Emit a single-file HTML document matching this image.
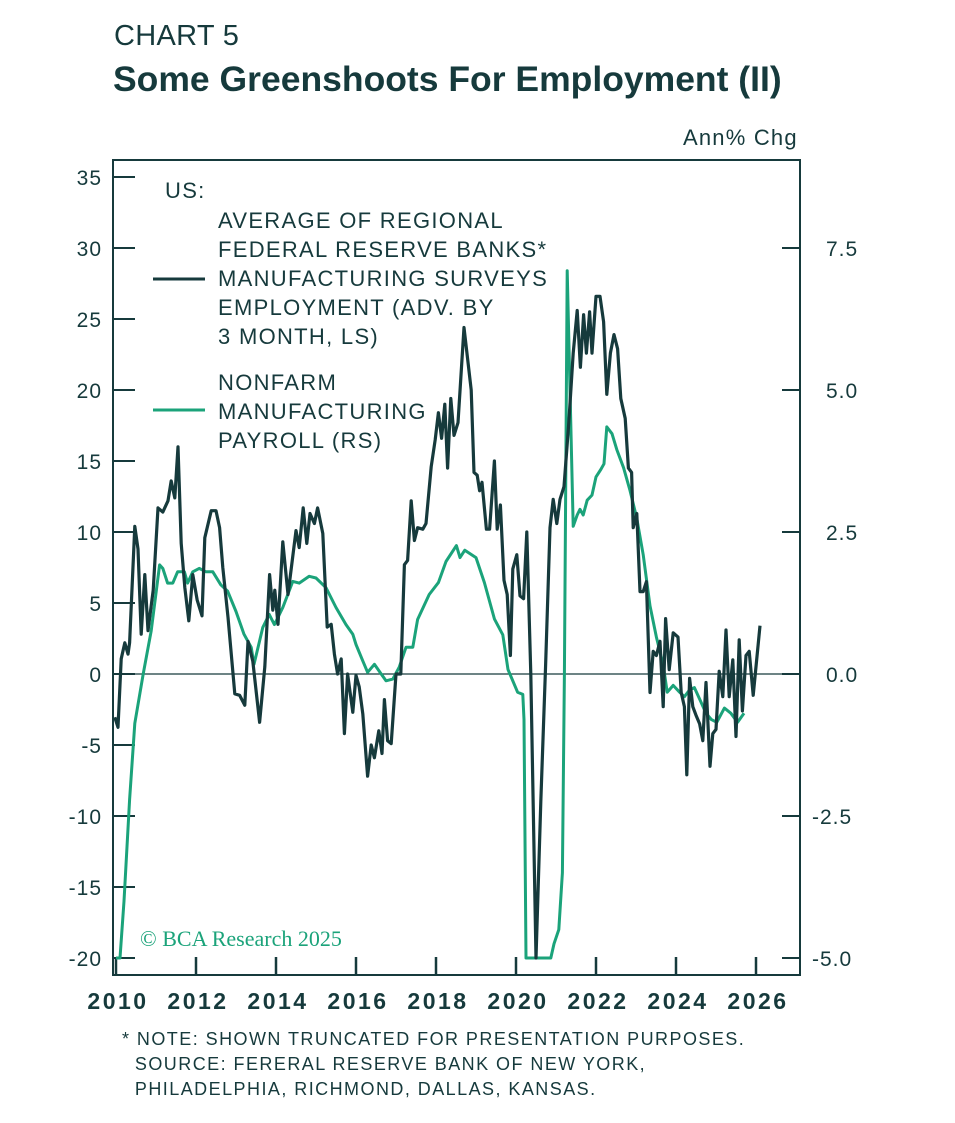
<!DOCTYPE html>
<html><head><meta charset="utf-8"><style>
body{margin:0;background:#fff;width:955px;height:1123px;overflow:hidden;font-family:"Liberation Sans",sans-serif;color:#163a3c}
.t{position:absolute;white-space:nowrap}
</style></head><body>
<div class="t" style="left:114px;top:20px;font-size:29px;letter-spacing:0.3px">CHART 5</div>
<div class="t" style="left:113px;top:59px;font-size:35.5px;font-weight:bold;letter-spacing:0px">Some Greenshoots For Employment (II)</div>
<div class="t" style="left:683px;top:125px;font-size:22px;letter-spacing:1.2px">Ann% Chg</div>
<svg id="chart" width="955" height="1123" style="position:absolute;left:0;top:0"></svg>
<div class="t" style="left:122px;top:1027px;font-size:18px;line-height:25px;letter-spacing:1.45px">* NOTE: SHOWN TRUNCATED FOR PRESENTATION PURPOSES.<br>&nbsp;&nbsp;SOURCE: FERERAL RESERVE BANK OF NEW YORK,<br>&nbsp;&nbsp;PHILADELPHIA, RICHMOND, DALLAS, KANSAS.</div>
<script>
const leftTicks=[35,30,25,20,15,10,5,0,-5,-10,-15,-20];
const rightTicks=[7.5,5.0,2.5,0.0,-2.5,-5.0];
const yearTicks=[2010,2012,2014,2016,2018,2020,2022,2024,2026];
const surveyDates=[2009.97,2010.05,2010.13,2010.22,2010.3,2010.34,2010.47,2010.55,2010.63,2010.72,2010.8,2010.93,2011.05,2011.17,2011.3,2011.38,2011.47,2011.55,2011.63,2011.72,2011.82,2011.92,2012.03,2012.15,2012.22,2012.38,2012.5,2012.59,2012.67,2012.8,2012.97,2013.09,2013.22,2013.3,2013.42,2013.59,2013.72,2013.84,2013.92,2013.97,2014.05,2014.17,2014.3,2014.5,2014.58,2014.68,2014.77,2014.85,2014.96,2015.04,2015.17,2015.28,2015.38,2015.46,2015.54,2015.63,2015.71,2015.79,2015.92,2016.0,2016.08,2016.17,2016.29,2016.38,2016.46,2016.57,2016.65,2016.71,2016.79,2016.88,2017.0,2017.12,2017.21,2017.29,2017.38,2017.46,2017.54,2017.67,2017.75,2017.88,2017.98,2018.06,2018.14,2018.22,2018.29,2018.37,2018.45,2018.55,2018.7,2018.88,2018.95,2019.03,2019.09,2019.15,2019.26,2019.34,2019.4,2019.46,2019.53,2019.61,2019.7,2019.78,2019.86,2019.92,2020.02,2020.1,2020.19,2020.27,2020.37,2020.5,2020.62,2020.74,2020.85,2020.93,2021.02,2021.1,2021.2,2021.32,2021.43,2021.53,2021.61,2021.69,2021.76,2021.84,2021.9,2022.0,2022.1,2022.19,2022.27,2022.36,2022.45,2022.54,2022.62,2022.73,2022.81,2022.89,2022.93,2023.02,2023.1,2023.18,2023.26,2023.35,2023.43,2023.51,2023.6,2023.68,2023.74,2023.83,2023.93,2024.05,2024.13,2024.21,2024.27,2024.34,2024.42,2024.5,2024.59,2024.67,2024.75,2024.85,2024.92,2025.0,2025.08,2025.17,2025.25,2025.33,2025.42,2025.5,2025.58,2025.66,2025.75,2025.83,2025.93,2026.1];
const surveyValues=[-3.05,-3.75,1.06,2.2,1.4,2.2,10.4,8.8,2.8,7,3.05,5.9,11.7,11.4,12.2,13.6,12.4,16,9.2,6.1,3.75,7,5.2,4.1,9.6,11.5,11.5,10.3,7.5,4,-1.4,-1.5,-2.2,2.3,0.9,-3.4,0.5,7,4.5,5.9,3.5,9.3,5.6,10.1,8.9,11.7,9.2,11.3,10.6,11.7,9.9,3.3,3.5,1.4,0,1.06,-4.2,0,-2.7,-0.1,-0.9,-2.8,-7.2,-5,-5.9,-4,-5.6,-1.8,-4.7,-4.9,0,0,7.7,8,12.2,9.4,10.3,10.2,10.6,14.6,16.5,18.4,16.6,19,14.5,19.4,16.8,17.7,24.4,20,14.2,14,12.9,13.5,10.2,10.2,12.6,15,10.2,11.9,6.6,5.6,1.3,7.4,8.4,5.5,5.3,10,0,-20,-9,0.6,10.3,12.3,10.6,12.3,13.2,17.7,22.6,25.6,21.6,25.3,22.6,25.5,22.6,26.6,26.6,24.8,19.7,22.6,23.9,22.9,19.4,18,14.5,14.2,10.3,11.3,5.8,5.8,6.5,-1.3,1.6,1.3,2.3,-2.3,3.9,0.3,2.9,2.6,-1.3,-2.3,-7.1,-0.3,-2.3,-2.9,-3.5,-4.7,-0.6,-6.5,-4.2,-3.9,0.2,-1.6,3.1,-1.6,1,-4.4,2.4,-2.6,1.3,1.6,-1.5,3.4];
const payrollDates=[2010.0,2010.1,2010.2,2010.34,2010.47,2010.68,2010.88,2011.09,2011.17,2011.29,2011.42,2011.54,2011.71,2011.79,2011.92,2012.08,2012.25,2012.42,2012.62,2012.79,2013.0,2013.2,2013.38,2013.45,2013.67,2013.83,2013.96,2014.17,2014.42,2014.58,2014.83,2015.0,2015.25,2015.5,2015.75,2015.92,2016.0,2016.17,2016.29,2016.46,2016.75,2016.92,2017.08,2017.25,2017.42,2017.54,2017.83,2018.06,2018.25,2018.51,2018.6,2018.72,2019.0,2019.21,2019.46,2019.67,2019.8,2020.04,2020.17,2020.2,2020.25,2020.87,2020.95,2021.07,2021.16,2021.21,2021.28,2021.35,2021.43,2021.53,2021.6,2021.68,2021.78,2021.9,2022.0,2022.12,2022.2,2022.27,2022.4,2022.52,2022.69,2022.85,2023.02,2023.18,2023.35,2023.51,2023.68,2023.78,2023.93,2024.09,2024.21,2024.34,2024.46,2024.59,2024.75,2024.88,2025.02,2025.21,2025.37,2025.54,2025.7];
const payrollValues=[-5,-5,-4,-2.21,-0.87,0,0.76,1.92,1.86,1.6,1.6,1.8,1.8,1.6,1.8,1.86,1.8,1.8,1.57,1.46,1.1,0.7,0.47,0.17,0.82,1.05,0.87,1.17,1.63,1.6,1.72,1.69,1.52,1.17,0.87,0.7,0.52,0.23,0.03,0.17,-0.12,-0.09,0.12,0.47,0.47,0.96,1.4,1.61,1.98,2.26,2.05,2.18,2.05,1.61,0.97,0.69,0.08,-0.32,-0.36,-0.8,-5,-5,-4.75,-4.5,-3.5,0,7.1,5,2.6,2.8,2.9,2.8,3.06,3.15,3.47,3.6,3.7,4.35,4.23,3.95,3.63,3.23,2.74,2.1,1.2,0.65,0.16,-0.32,-0.2,-0.32,-0.4,-0.28,-0.24,-0.44,-0.69,-0.8,-0.85,-0.6,-0.69,-0.85,-0.69];

const NS='http://www.w3.org/2000/svg';
const svg=document.getElementById('chart');
const X0=113,X1=800,Y0=160,Y1=975;
const xS=y=>116+(y-2010)*40;
const yL=v=>674-v*14.2;
const yR=v=>674-v*56.8;
const DARK='#163a3c',GREEN='#1ba37a';
function mk(tag,attrs){const e=document.createElementNS(NS,tag);for(const k in attrs)e.setAttribute(k,attrs[k]);svg.appendChild(e);return e;}
const fr=mk('rect',{x:X0,y:Y0,width:X1-X0,height:Y1-Y0,fill:'none',stroke:DARK,'stroke-width':2});


const zl=mk('line',{x1:X0,x2:X1,y1:yL(0),y2:yL(0),stroke:DARK,'stroke-width':1.3});


leftTicks.forEach(v=>{
 const l=mk('line',{x1:X0,x2:X0+22,y1:yL(v),y2:yL(v),stroke:DARK,'stroke-width':2});
 
 
 const t=mk('text',{x:102,y:yL(v)+8,'text-anchor':'end','font-size':21,'letter-spacing':1,fill:DARK,'font-family':'Liberation Sans'});
 t.textContent=String(v);
 
 
});
rightTicks.forEach(v=>{
 const l=mk('line',{x1:X1-18,x2:X1,y1:yR(v),y2:yR(v),stroke:DARK,'stroke-width':2});
 
 
 const t=mk('text',{x:826,y:yR(v)+8,'font-size':21,'letter-spacing':1,fill:DARK,'font-family':'Liberation Sans'});
 t.textContent=(v<0?'-':'')+Math.abs(v).toFixed(1);
 if(v<0)t.setAttribute('x',812);
 
 
});
yearTicks.forEach(yr=>{
 const l=mk('line',{x1:xS(yr),x2:xS(yr),y1:Y1,y2:Y1-18,stroke:DARK,'stroke-width':2.5});
 
 
 const t=mk('text',{x:xS(yr)+2,y:1009,'text-anchor':'middle','font-size':23,'letter-spacing':2.5,'font-weight':'bold',fill:DARK,'font-family':'Liberation Sans'});
 t.textContent=String(yr);
 
 
});
const c=mk('text',{x:140,y:946,'font-size':22,fill:GREEN,'font-family':'Liberation Serif'});
c.textContent='© BCA Research 2025';


function path(ds,vs,sc){return ds.map((d,i)=>(i?'L':'M')+xS(d).toFixed(1)+','+sc(vs[i]).toFixed(1)).join('');}
const pg=mk('path',{d:path(payrollDates,payrollValues,yR),fill:'none',stroke:GREEN,'stroke-width':3,'stroke-linejoin':'round'});


const ps=mk('path',{d:path(surveyDates,surveyValues,yL),fill:'none',stroke:DARK,'stroke-width':3.2,'stroke-linejoin':'round'});


const lg=[['US:',165,198],['AVERAGE OF REGIONAL',218,228],['FEDERAL RESERVE BANKS*',218,257],['MANUFACTURING SURVEYS',218,286],['EMPLOYMENT (ADV. BY',218,315],['3 MONTH, LS)',218,344],['NONFARM',218,390],['MANUFACTURING',218,419],['PAYROLL (RS)',218,448]];
lg.forEach(a=>{
 const t=mk('text',{x:a[1],y:a[2],'font-size':22,'letter-spacing':1.3,fill:DARK,'font-family':'Liberation Sans'});
 t.textContent=a[0];
 
 
});
const l1=mk('line',{x1:153,x2:205,y1:279,y2:279,stroke:DARK,'stroke-width':3});


const l2=mk('line',{x1:153,x2:205,y1:410,y2:410,stroke:GREEN,'stroke-width':3});


</script>
</body></html>
